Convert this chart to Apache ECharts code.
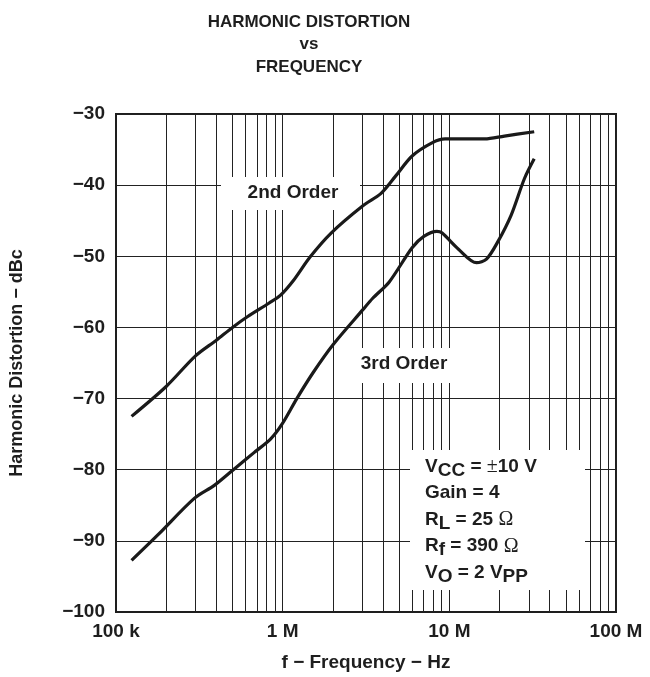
<!DOCTYPE html>
<html>
<head>
<meta charset="utf-8">
<script src="https://cdn.jsdelivr.net/npm/echarts@6/dist/echarts.min.js"></script>
<style>
  html, body { margin: 0; padding: 0; background: #fff; }
  #chart { width: 650px; height: 677px; }
</style>
</head>
<body>
<div id="chart"></div>
<script>
// ---- data (frequency in Hz, distortion in dBc) ----
const secondOrderFreq = [124e3, 200e3, 300e3, 400e3, 500e3, 614e3, 826e3, 968e3, 1.16e6, 1.46e6, 1.96e6, 3.03e6, 3.88e6, 4.77e6, 5.98e6, 7.87e6, 9.44e6, 16.3e6, 21.4e6, 32.3e6];
const secondOrderDb   = [-72.5, -68.3, -64.0, -61.8, -60.0, -58.5, -56.6, -55.5, -53.4, -50.1, -46.7, -42.9, -41.2, -38.7, -35.9, -34.05, -33.5, -33.5, -33.1, -32.5];

const thirdOrderFreq = [124e3, 179.5e3, 296e3, 389e3, 500e3, 673e3, 845e3, 991e3, 1.216e6, 1.528e6, 2.01e6, 3.03e6, 3.47e6, 4.36e6, 5.98e6, 7.03e6, 8.43e6, 9.02e6, 11.35e6, 14.55e6, 16.7e6, 19.6e6, 23.5e6, 28.2e6, 32.3e6];
const thirdOrderDb   = [-92.75, -89.1, -84.0, -82.2, -80.1, -77.6, -75.7, -73.6, -70.0, -66.3, -62.4, -57.5, -55.9, -53.6, -48.8, -47.2, -46.5, -46.7, -49.0, -50.9, -50.4, -47.9, -44.2, -39.1, -36.3];

const xTickLabels = { 100000: '100 k', 1000000: '1 M', 10000000: '10 M', 100000000: '100 M' };
const minorGridFreqs = [2e5, 3e5, 4e5, 5e5, 6e5, 7e5, 8e5, 9e5,
                        2e6, 3e6, 4e6, 5e6, 6e6, 7e6, 8e6, 9e6,
                        2e7, 3e7, 4e7, 5e7, 6e7, 7e7, 8e7, 9e7];
const curveLabels = ['2nd Order', '3rd Order'];

const FONT = "'Liberation Sans', Arial, Helvetica, sans-serif";
const INK = '#1e1e1e';
const GRID = '#222';

function zip(xs, ys) { return xs.map((x, i) => [x, ys[i]]); }

const chart = echarts.init(document.getElementById('chart'), null, { renderer: 'canvas' });

const annText = '{n|V}{s|CC}{n| = }{o|±}{n|10 V}\n' +
                '{n|Gain = 4}\n' +
                '{n|R}{s|L}{n| = 25 }{o|Ω}\n' +
                '{n|R}{s|f}{n| = 390 }{o|Ω}\n' +
                '{n|V}{s|O}{n| = 2 V}{s|PP}';

const option = {
  backgroundColor: '#fff',
  animation: false,
  grid: { left: 110.5, right: 34, top: 114, bottom: 56, show: true, borderColor: INK, borderWidth: 2 },
  xAxis: {
    type: 'log', logBase: 10, min: 1e5, max: 1e8,
    axisLine: { show: true, lineStyle: { color: INK, width: 2 } },
    axisTick: { show: false },
    splitLine: { show: true, lineStyle: { color: GRID, width: 1 } },
    axisLabel: {
      formatter: v => xTickLabels[Math.round(v)] || '',
      fontSize: 19, fontWeight: 'bold', color: INK, fontFamily: FONT, margin: 10
    },
    name: 'f − Frequency − Hz', nameLocation: 'middle', nameGap: 41,
    nameTextStyle: { fontSize: 19, fontWeight: 'bold', color: INK, fontFamily: FONT }
  },
  yAxis: {
    type: 'value', min: -100, max: -30, interval: 10,
    axisLine: { show: true, lineStyle: { color: INK, width: 2 } },
    axisTick: { show: false },
    splitLine: { show: true, lineStyle: { color: GRID, width: 1 } },
    axisLabel: {
      formatter: v => (v < 0 ? '−' + Math.abs(v) : String(v)),
      fontSize: 19, fontWeight: 'bold', color: INK, fontFamily: FONT, margin: 11
    },
    name: 'Harmonic Distortion − dBc', nameLocation: 'middle', nameGap: 90,
    nameTextStyle: { fontSize: 18, fontWeight: 'bold', color: INK, fontFamily: FONT }
  },
  series: [
    {
      type: 'line', name: 'minor grid', data: [], z: 1, silent: true,
      markLine: {
        silent: true, symbol: 'none', animation: false,
        label: { show: false },
        lineStyle: { color: GRID, width: 1, type: 'solid' },
        emphasis: { disabled: true },
        data: minorGridFreqs.map(f => ({ xAxis: f }))
      }
    },
    {
      type: 'line', name: curveLabels[0], data: zip(secondOrderFreq, secondOrderDb),
      smooth: 0.3, showSymbol: false, z: 300,
      lineStyle: { color: '#1a1a1a', width: 3.2 }
    },
    {
      type: 'line', name: curveLabels[1], data: zip(thirdOrderFreq, thirdOrderDb),
      smooth: 0.3, showSymbol: false, z: 300,
      lineStyle: { color: '#1a1a1a', width: 3.2 }
    }
  ],
  graphic: [
    {
      type: 'text', x: 309, y: 11, z: 200,
      style: {
        text: 'HARMONIC DISTORTION\nvs\nFREQUENCY', textAlign: 'center', textVerticalAlign: 'top',
        fill: INK, font: 'bold 17px ' + FONT, lineHeight: 22.5
      }
    },
    // white box behind "2nd Order"
    { type: 'rect', z: 100, shape: { x: 221, y: 177, width: 139, height: 33 }, style: { fill: '#fff' } },
    {
      type: 'text', z: 110, x: 293, y: 193,
      style: { text: curveLabels[0], textAlign: 'center', textVerticalAlign: 'middle', fill: INK, font: 'bold 19px ' + FONT }
    },
    // white box behind "3rd Order"
    { type: 'rect', z: 100, shape: { x: 348, y: 348, width: 117, height: 35 }, style: { fill: '#fff' } },
    {
      type: 'text', z: 110, x: 404, y: 364,
      style: { text: curveLabels[1], textAlign: 'center', textVerticalAlign: 'middle', fill: INK, font: 'bold 19px ' + FONT }
    },
    // conditions box
    { type: 'rect', z: 100, shape: { x: 410, y: 450, width: 175, height: 140 }, style: { fill: '#fff' } },
    {
      type: 'text', z: 110, x: 425, y: 453.5,
      style: {
        text: annText, textAlign: 'left', textVerticalAlign: 'top', fill: INK,
        font: 'bold 19px ' + FONT,
        rich: {
          n: { fontSize: 19, fontWeight: 'bold', fontFamily: FONT, fill: INK, lineHeight: 26.5, verticalAlign: 'middle' },
          s: { fontSize: 19, fontWeight: 'bold', fontFamily: FONT, fill: INK, lineHeight: 17, verticalAlign: 'bottom' },
          o: { fontSize: 20, fontWeight: 'normal', fontFamily: "'Liberation Serif', 'Times New Roman', serif", fill: INK, lineHeight: 26.5, verticalAlign: 'middle' }
        }
      }
    }
  ]
};

chart.setOption(option);
</script>
</body>
</html>
